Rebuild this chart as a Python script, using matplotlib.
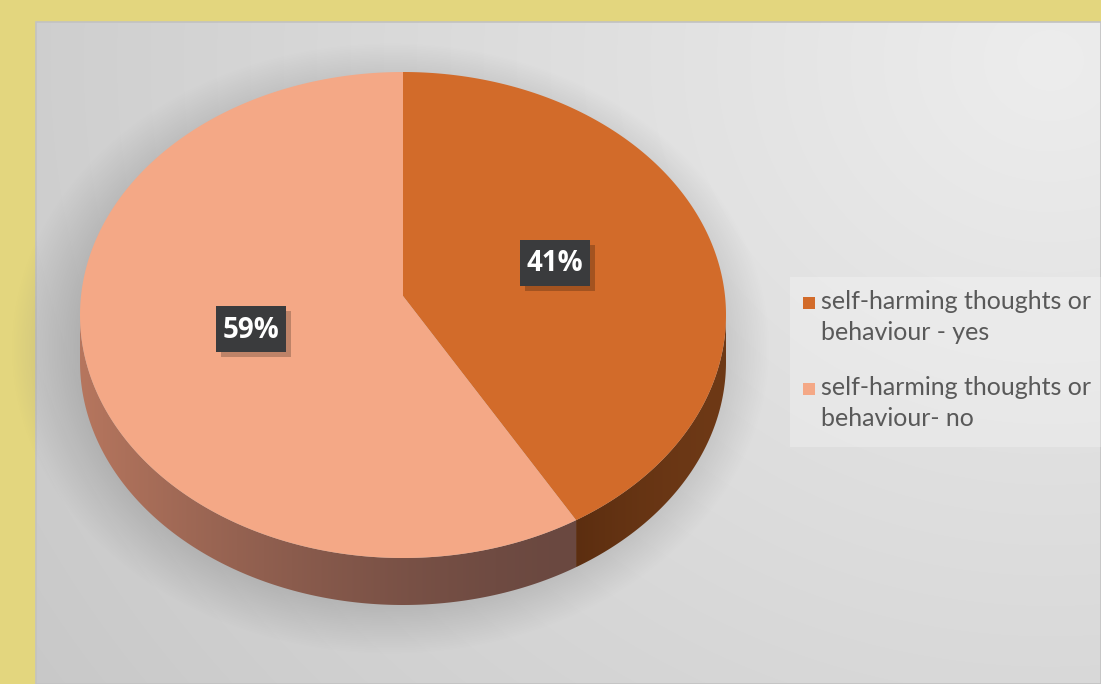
import numpy as np
import matplotlib.pyplot as plt
from matplotlib.patches import Polygon, Rectangle
from matplotlib.colors import to_rgb

labels = ['self-harming thoughts or\nbehaviour - yes', 'self-harming thoughts or\nbehaviour- no']
values = [41, 59]
top_colors = ['#D26B2A', '#F4A886']
side_colors = [('#5C2E10', '#6E3916'), ('#B6765E', '#6A4840')]

W, H = 1101, 684
fig = plt.figure(figsize=(W / 100, H / 100), dpi=100)
fig.patch.set_facecolor('#E3D67E')
ax = fig.add_axes([0, 0, 1, 1])
ax.set_xlim(0, W)
ax.set_ylim(H, 0)
ax.axis('off')

# gray panel with soft gradient
px0, py0 = 36, 22
yy, xx = np.mgrid[py0:H, px0:W]
d = np.hypot(xx - 1050, (yy - 60) * 1.1)
g = np.clip(237 - 0.03 * d, 200, 240) / 255
ax.imshow(np.dstack([g, g, g]), extent=(px0, W, H, py0), zorder=0)
ax.add_patch(Rectangle((px0, py0), W - px0, H - py0, fill=False, ec='#C2C2C2', lw=1.2, zorder=1))

# pie geometry
cx, cy, a, b = 403, 315, 323, 243
apex = (403, 296)
depth = 47


def ell(t):
    return cx + a * np.sin(t), cy - b * np.cos(t)


# soft shadow
sy, sx = np.mgrid[0:H, 0:W]
r = np.hypot((sx - 390) / 345, (sy - 348) / 278)
alpha = 0.32 * np.clip((1.1 - r) / 0.2, 0, 1)
shadow = np.zeros((H, W, 4))
shadow[..., 0:3] = 0.45
shadow[..., 3] = alpha
ax.imshow(shadow, extent=(0, W, H, 0), zorder=2)

fracs = np.array(values) / sum(values)
bounds = np.concatenate([[0], np.cumsum(fracs)]) * 2 * np.pi

for i in range(len(values)):
    t0, t1 = bounds[i], bounds[i + 1]
    # side of the cylinder (front half only)
    s0, s1 = max(t0, np.pi / 2), min(t1, 3 * np.pi / 2)
    if s1 > s0:
        tt = np.linspace(s0, s1, 200)
        ux, uy = ell(tt)
        pts = np.vstack([np.column_stack([ux, uy]),
                         np.column_stack([ux[::-1], uy[::-1] + depth])])
        poly = Polygon(pts, closed=True, fc='none', ec='none', zorder=3)
        ax.add_patch(poly)
        c_l, c_r = to_rgb(side_colors[i][0]), to_rgb(side_colors[i][1])
        x_lo, x_hi = pts[:, 0].min(), pts[:, 0].max()
        y_lo, y_hi = pts[:, 1].min(), pts[:, 1].max()
        k = np.linspace(0, 1, 300)
        # left side is lighter
        grad = np.array([[c_r[j] + (c_l[j] - c_r[j]) * (1 - kk) ** 1.5 for j in range(3)] for kk in k])
        img = ax.imshow(grad[None, :, :], extent=(x_lo, x_hi, y_hi, y_lo), aspect='auto', zorder=3)
        img.set_clip_path(poly)
    # top face
    tt = np.linspace(t0, t1, 300)
    ex, ey = ell(tt)
    pts = np.vstack([[apex], np.column_stack([ex, ey])])
    ax.add_patch(Polygon(pts, closed=True, fc=top_colors[i], ec='none', zorder=4))

# data labels
bw, bh = 70, 46
for i, v in enumerate(values):
    m = (bounds[i] + bounds[i + 1]) / 2
    lx = apex[0] + 0.49 * a * np.sin(m)
    ly = apex[1] - 0.49 * b * np.cos(m)
    ax.add_patch(Rectangle((lx - bw / 2 + 5, ly - bh / 2 + 5), bw, bh, fc='black', ec='none',
                           alpha=0.22, zorder=5))
    ax.add_patch(Rectangle((lx - bw / 2, ly - bh / 2), bw, bh, fc='#3A3B3D', ec='none', zorder=6))
    ax.text(lx, ly + 1, f'{v}%', color='white', fontsize=20, fontweight='bold',
            family='Open Sans', ha='center', va='center', zorder=7)

# legend
ax.add_patch(Rectangle((790, 277), W - 790, 170, fc='white', ec='none', alpha=0.25, zorder=2))
leg_y = [297, 383]
for i, lab in enumerate(labels):
    ax.add_patch(Rectangle((803, leg_y[i]), 12, 12, fc=top_colors[i], ec='none', zorder=5))
    ax.text(821, leg_y[i] - 7, lab, color='#595959', fontsize=18, family='Lato',
            ha='left', va='top', linespacing=1.42, zorder=5)

fig.savefig('out.png', dpi=100, facecolor=fig.get_facecolor())
